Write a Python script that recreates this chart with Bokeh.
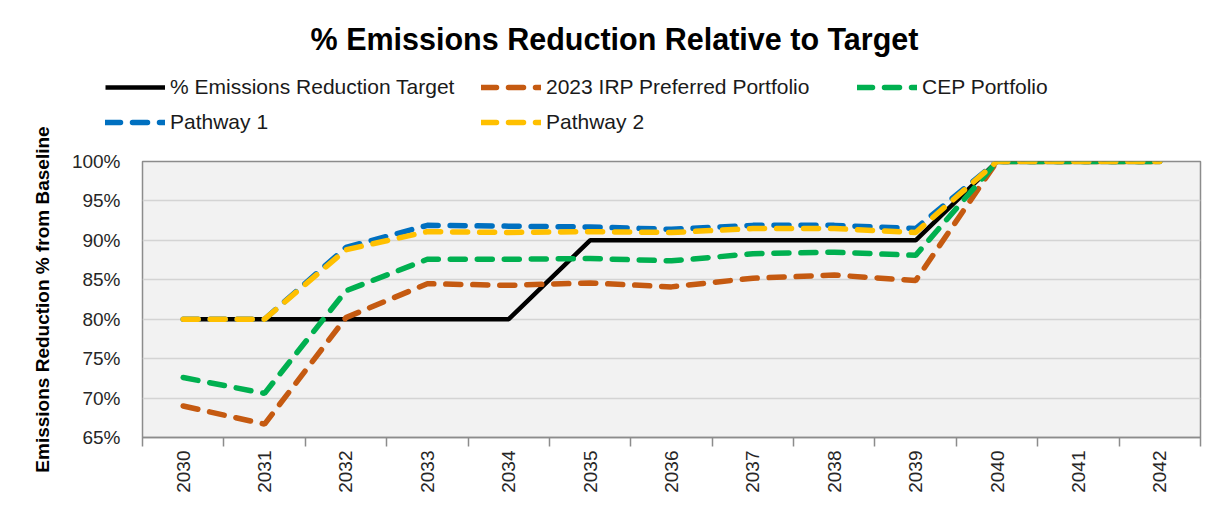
from bokeh.plotting import figure
from bokeh.models import (Legend, LegendItem, FixedTicker, PrintfTickFormatter,
                          Range1d, GridBox)
from bokeh.embed import file_html
from bokeh.resources import INLINE

years = ["2030", "2031", "2032", "2033", "2034", "2035", "2036",
         "2037", "2038", "2039", "2040", "2041", "2042"]
target = [80, 80, 80, 80, 80, 90, 90, 90, 90, 90, 100, 100, 100]
irp_2023 = [69.0, 66.7, 80.2, 84.5, 84.3, 84.6, 84.1, 85.2, 85.6, 84.9, 100, 100, 100]
cep = [72.6, 70.6, 83.6, 87.6, 87.6, 87.7, 87.4, 88.3, 88.5, 88.1, 100, 100, 100]
pathway1 = [80, 80, 89.1, 91.9, 91.8, 91.7, 91.4, 91.9, 91.9, 91.5, 100, 100, 100]
pathway2 = [80, 80, 88.8, 91.1, 91.0, 91.1, 91.0, 91.5, 91.5, 91.0, 100, 100, 100]
y_ticks = [65, 70, 75, 80, 85, 90, 95, 100]

series_names = ["% Emissions Reduction Target", "2023 IRP Preferred Portfolio",
                "CEP Portfolio", "Pathway 1", "Pathway 2"]
series_colors = ["#000000", "#c55a11", "#00b050", "#0070c0", "#ffc000"]

FONT = "Liberation Sans"
DASH = "15 12"
xs = list(range(len(years)))

# ---------------- main chart ----------------
p = figure(width=1215, height=512, output_backend="svg", toolbar_location=None,
           x_range=Range1d(-0.5, len(years) - 0.5), y_range=Range1d(65, 100),
           min_border_left=142, min_border_right=15, min_border_top=161,
           min_border_bottom=75)
p.background_fill_color = "#f2f2f2"
p.border_fill_color = "white"
p.outline_line_color = "#8c8c8c"
p.outline_line_width = 1.5

p.xgrid.grid_line_color = None
p.ygrid.grid_line_color = "#d4d4d4"
p.ygrid.grid_line_width = 1.5

p.yaxis.ticker = FixedTicker(ticks=y_ticks)
p.yaxis.formatter = PrintfTickFormatter(format="%d%%")
p.yaxis.axis_line_color = None
p.yaxis.major_tick_line_color = None
p.yaxis.minor_tick_line_color = None
p.yaxis.major_label_text_font = FONT
p.yaxis.major_label_text_font_size = "19px"
p.yaxis.major_label_text_color = "#262626"
p.yaxis.major_label_standoff = 16
p.yaxis.axis_label = "Emissions Reduction % from Baseline"
p.yaxis.axis_label_text_font = FONT
p.yaxis.axis_label_text_font_size = "19px"
p.yaxis.axis_label_text_font_style = "bold"
p.yaxis.axis_label_text_color = "black"
p.yaxis.axis_label_standoff = 16

p.xaxis.ticker = FixedTicker(ticks=xs, minor_ticks=[i - 0.5 for i in range(len(years) + 1)])
p.xaxis.major_label_overrides = {i: y for i, y in enumerate(years)}
p.xaxis.major_label_orientation = 1.5708
p.xaxis.major_label_text_font = FONT
p.xaxis.major_label_text_font_size = "19px"
p.xaxis.major_label_text_color = "#262626"
p.xaxis.major_label_standoff = 4
p.xaxis.major_tick_line_color = None
p.xaxis.axis_line_color = "#8c8c8c"
p.xaxis.axis_line_width = 1.5
p.xaxis.minor_tick_line_color = "#8c8c8c"
p.xaxis.minor_tick_line_width = 1.5
p.xaxis.minor_tick_out = 9
p.xaxis.minor_tick_in = 0

p.line(xs, target, line_color=series_colors[0], line_width=4.5)
for vals, color in zip([irp_2023, cep, pathway1, pathway2], series_colors[1:]):
    p.line(xs, vals, line_color=color, line_width=5.5, line_dash=DASH, line_cap="round")

# ---------------- transparent overlay: title + legend ----------------
header = figure(width=1215, height=512, output_backend="svg", toolbar_location=None,
                x_range=Range1d(0, 1), y_range=Range1d(0, 1),
                x_axis_location=None, y_axis_location=None,
                min_border_left=13, min_border_right=0, min_border_bottom=0,
                min_border_top=55)
header.frame_align = False
header.grid.visible = False
header.outline_line_color = None
header.background_fill_alpha = 0
header.border_fill_alpha = 0
header.title.text = "% Emissions Reduction Relative to Target"
header.title.align = "center"
header.title.text_font = FONT
header.title.text_font_size = "30.5px"
header.title.text_font_style = "bold"
header.title.text_color = "black"
header.title.standoff = 0

# legend keys only (single-point lines draw nothing in the plot area)
key_renderers = []
for name, color in zip(series_names, series_colors):
    if name == series_names[0]:
        r = header.line(x=[0], y=[0], line_color=color, line_width=4.5)
    else:
        r = header.line(x=[0], y=[0], line_color=color, line_width=5.5,
                        line_dash=DASH, line_cap="round")
    key_renderers.append(r)

legend = Legend(items=[LegendItem(label=n, renderers=[r])
                       for n, r in zip(series_names, key_renderers)],
                orientation="horizontal", ncols=3, location=(92, 375))
legend.glyph_width = 60
legend.glyph_height = 30
legend.label_height = 30
legend.label_width = 306
legend.label_standoff = 5
legend.spacing = 5
legend.padding = 0
legend.margin = 0
legend.border_line_color = None
legend.background_fill_alpha = 0
legend.label_text_font = FONT
legend.label_text_font_size = "21px"
legend.label_text_color = "#1a1a1a"
header.add_layout(legend)

layout = GridBox(children=[(p, 0, 0), (header, 0, 0)])
open("out.html", "w").write(file_html(layout, INLINE))
